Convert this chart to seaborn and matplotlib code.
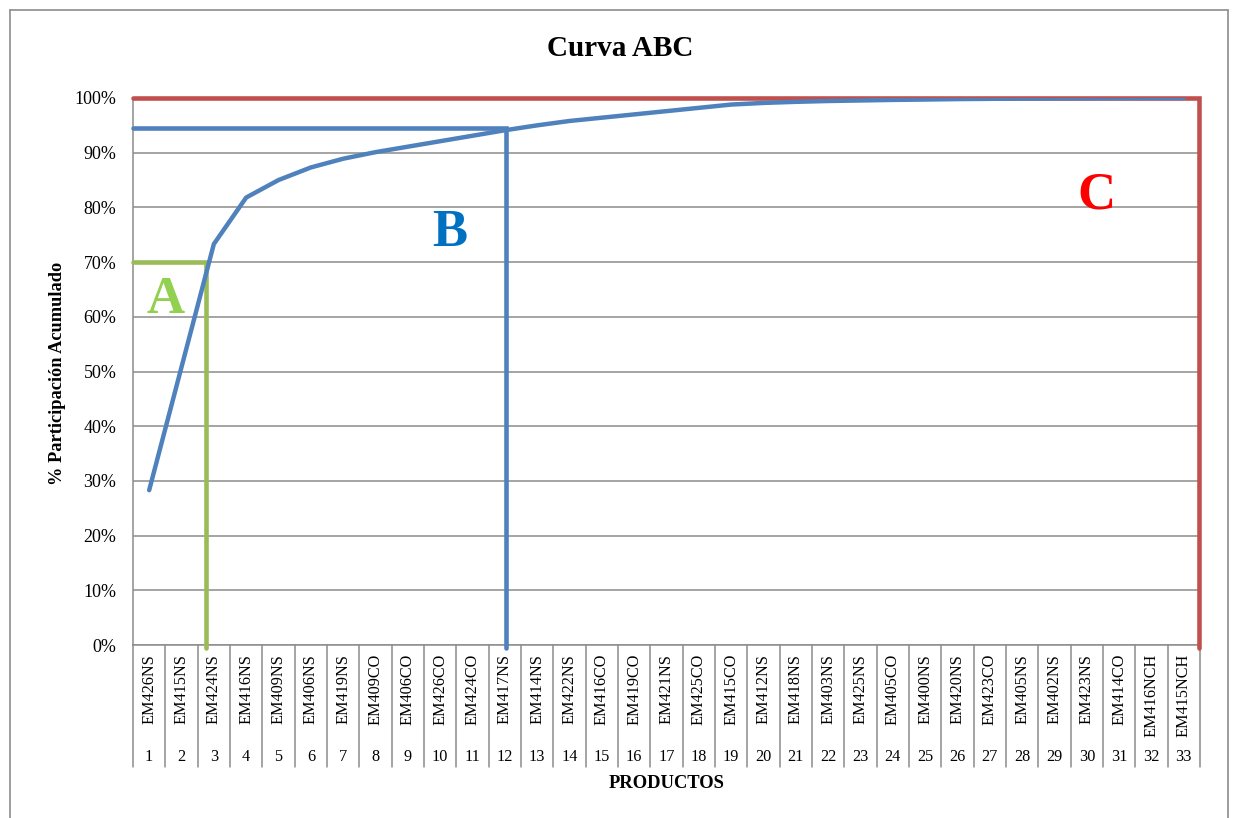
import matplotlib
matplotlib.use("Agg")
import matplotlib.pyplot as plt
import matplotlib.transforms as mtransforms
from matplotlib.lines import Line2D
import seaborn as sns
import pandas as pd

# ---- data ----
productos = ["EM426NS", "EM415NS", "EM424NS", "EM416NS", "EM409NS", "EM406NS", "EM419NS",
             "EM409CO", "EM406CO", "EM426CO", "EM424CO", "EM417NS", "EM414NS", "EM422NS",
             "EM416CO", "EM419CO", "EM421NS", "EM425CO", "EM415CO", "EM412NS", "EM418NS",
             "EM403NS", "EM425NS", "EM405CO", "EM400NS", "EM420NS", "EM423CO", "EM405NS",
             "EM402NS", "EM423NS", "EM414CO", "EM416NCH", "EM415NCH"]
numeros = list(range(1, 34))
acumulado = [28.3, 50.8, 73.3, 81.8, 85.0, 87.3, 88.9, 90.1, 91.1, 92.1, 93.1, 94.1,
             95.0, 95.8, 96.4, 97.0, 97.6, 98.2, 98.8, 99.1, 99.3, 99.45, 99.55, 99.65,
             99.72, 99.8, 99.85, 99.9, 99.93, 99.96, 99.98, 99.99, 100.0]
y_ticks = [0, 10, 20, 30, 40, 50, 60, 70, 80, 90, 100]
# zone limits (x in category index, y in %)
zona_a = (1.76, 70.0)
zona_b = (11.04, 94.6)
zona_c = (32.47, 100.0)

sns.set_style("white")
plt.rcParams["font.family"] = ["Liberation Serif", "DejaVu Serif"]
plt.rcParams["text.color"] = "black"
plt.rcParams["axes.labelcolor"] = "black"
plt.rcParams["ytick.color"] = "black"

W, H = 1237, 818
fig = plt.figure(figsize=(W / 100, H / 100), dpi=100)
L, R, T, B = 133, 1200, 98, 645
ax = fig.add_axes([L / W, 1 - B / H, (R - L) / W, (B - T) / H])

df = pd.DataFrame({"idx": range(len(productos)), "val": acumulado})

ax.set_xlim(-0.5, len(productos) - 0.5)
ax.set_ylim(0, 100)
ax.set_yticks(y_ticks)
ax.set_yticklabels([f"{v}%" for v in y_ticks], fontsize=13)
ax.yaxis.grid(True, color="#8c8c8c", linewidth=1.1)
ax.set_axisbelow(True)
ax.tick_params(axis="y", length=0, pad=12, left=False, labelcolor="black")
ax.set_xticks([])
for s in ["top", "right"]:
    ax.spines[s].set_visible(False)
for s in ["left", "bottom"]:
    ax.spines[s].set_color("#8c8c8c")
    ax.spines[s].set_linewidth(1.1)

sns.lineplot(data=df, x="idx", y="val", ax=ax, color="#4F81BD", linewidth=3.2,
             solid_capstyle="round", zorder=5)

# zone lines
x0 = -0.5
def zone(xe, ye, color):
    ax.plot([x0, xe, xe], [ye, ye, -0.6], color=color, linewidth=3.3, zorder=4,
            solid_joinstyle="miter", clip_on=False)
zone(*zona_a, "#9BBB59")
zone(*zona_b, "#4F81BD")
zone(*zona_c, "#C0504D")

ax.text(0.52, 63.0, "A", color="#92D050", fontsize=38, fontweight="bold", ha="center", va="center", zorder=6)
ax.text(9.3, 75.4, "B", color="#0070C0", fontsize=38, fontweight="bold", ha="center", va="center", zorder=6)
ax.text(29.3, 82.2, "C", color="#FF0000", fontsize=38, fontweight="bold", ha="center", va="center", zorder=6)

# multi-level category axis
trans = mtransforms.blended_transform_factory(ax.transData, ax.transAxes)
hpx = B - T
for k in range(len(productos) + 1):
    ax.plot([k - 0.5, k - 0.5], [0, -(767 - B) / hpx], color="#8c8c8c", linewidth=1.1,
            transform=trans, clip_on=False)
for i, (name, n) in enumerate(zip(productos, numeros)):
    ax.text(i, -(654 - B) / hpx, name, rotation=90, ha="center", va="top",
            fontsize=11.7, transform=trans)
    ax.text(i, -(757 - B) / hpx, str(n), ha="center", va="center",
            fontsize=11.7, transform=trans)

ax.set_xlabel("")
ax.set_ylabel("")
fig.text(57 / W, 1 - 373 / H, "% Participación Acumulado", rotation=90, ha="center", va="center",
         fontsize=13.2, fontweight="bold")
fig.text(667 / W, 1 - 783 / H, "PRODUCTOS", ha="center", va="center", fontsize=13.3, fontweight="bold")
fig.text(620 / W, 1 - 48 / H, "Curva ABC", ha="center", va="center", fontsize=21, fontweight="bold")

# chart border
for xs, ys in [([10, 1228], [10, 10]), ([10, 10], [10, 818]), ([1228, 1228], [10, 818])]:
    fig.add_artist(Line2D([x / W for x in xs], [1 - y / H for y in ys], color="#8c8c8c", linewidth=1.2))

fig.savefig("out.png", dpi=100)
